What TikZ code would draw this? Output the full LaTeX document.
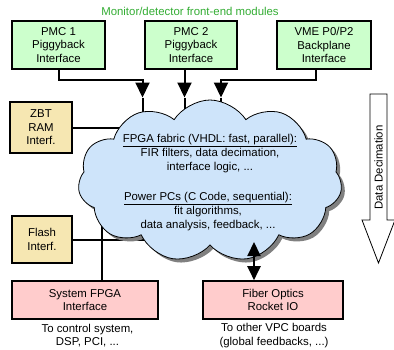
\documentclass[tikz,border=0pt]{standalone}
\usepackage{fontspec}
\setmainfont{Liberation Sans}
\usetikzlibrary{shapes.symbols,shadows,arrows.meta}
\pgfdeclarelayer{background}
\pgfsetlayers{background,main}
\definecolor{boxgreen}{RGB}{204,255,204}
\definecolor{boxtan}{RGB}{246,231,178}
\definecolor{boxpink}{RGB}{255,204,204}
\definecolor{cloudblue}{RGB}{206,228,250}
\definecolor{titlegreen}{RGB}{50,172,50}
\begin{document}
\begin{tikzpicture}[x=1pt,y=-1pt,
  every node/.style={font=\fontsize{11.4}{13.6}\selectfont, inner sep=0pt},
  box/.style={draw=black, line width=1.6pt, align=center},
  conn/.style={line width=2pt, draw=black},
  tip/.style={-{Triangle[length=15pt,width=14pt]}},
  dtip/.style={{Triangle[length=14pt,width=13pt]}-{Triangle[length=14pt,width=13pt]}},
  txt/.style={align=center},
]
\useasboundingbox (0,0) rectangle (394,349);

% title
\node[text=titlegreen] (title) at (190,11) {Monitor/detector front-end modules};

% boxes
\node[box, fill=boxgreen, minimum width=93pt, minimum height=48pt] (pmc1) at (58.5,45) {PMC 1\\Piggyback\\Interface};
\node[box, fill=boxgreen, minimum width=92pt, minimum height=48pt] (pmc2) at (191,45) {PMC 2\\Piggyback\\Interface};
\node[box, fill=boxgreen, minimum width=94pt, minimum height=48pt] (vme) at (324,45) {VME P0/P2\\Backplane\\Interface};
\node[box, fill=boxtan, minimum width=62pt, minimum height=51pt] (zbt) at (41,127.5) {ZBT\\RAM\\Interf.};
\node[box, fill=boxtan, minimum width=60pt, minimum height=47pt] (flash) at (42,239.5) {Flash\\Interf.};
\node[box, fill=boxpink, minimum width=146pt, minimum height=38pt] (sys) at (85,300) {System FPGA\\Interface};
\node[box, fill=boxpink, minimum width=140pt, minimum height=38pt] (fiber) at (273,300) {Fiber Optics\\Rocket IO};

% cloud
\node[cloud, cloud puffs=11, cloud puff arc=115, cloud ignores aspect,
      minimum width=264pt, minimum height=162pt, draw=black, line width=0.8pt,
      fill=cloudblue,
      drop shadow={shadow xshift=3.5pt, shadow yshift=-3.5pt, fill=black!50, opacity=1}]
      (cloud) at (210,181) {};

\coordinate (a1) at (142.5,97.5);
\coordinate (a2) at (184.5,97.5);
\coordinate (a3) at (221,97.5);
\coordinate (a4) at (254,242);
\coordinate (j) at (102,242);

\begin{pgfonlayer}{background}
  \draw[conn] (a1) -- (a1 |- cloud.center);
  \draw[conn] (a2) -- (a2 |- cloud.center);
  \draw[conn] (a3) -- (a3 |- cloud.center);
  \draw[conn] (zbt.east) -- (zbt.east -| cloud.center);
  \draw[conn] (flash.east) -- (flash.east -| cloud.center);
  \draw[conn] (sys.north -| j) -- (j |- cloud.center);
\end{pgfonlayer}

\draw[conn, tip] (pmc1.south) -- ++(0,10.5) -| (a1);
\draw[conn, tip] (pmc2.south -| a2) -- (a2);
\draw[conn, tip] (316,69) -- (316,79.5) -| (a3);
\draw[conn, dtip] (a4) -- (fiber.north -| a4);

% cloud texts
\node[txt] (fpga) at (210,153.5) {\underline{FPGA fabric (VHDL: fast, parallel):}\\FIR filters, data decimation,\\interface logic, ...};
\node[txt] (ppc) at (208,211.5) {\underline{Power PCs (C Code, sequential):}\\fit algorithms,\\data analysis, feedback, ...};

% bottom texts
\node[txt] (ctl) at (87.5,335.5) {To control system,\\DSP, PCI, ...};
\node[txt] (vpc) at (274,335.5) {To other VPC boards\\(global feedbacks, ...)};

% data decimation arrow
\draw[line width=0.8pt, fill=white] (370,94) -- (387,94) -- (387,220) -- (395,220) -- (378.5,263) -- (362,220) -- (370,220) -- cycle;
\node[rotate=90] (dd) at (378.5,167.5) {Data Decimation};
\end{tikzpicture}
\end{document}
